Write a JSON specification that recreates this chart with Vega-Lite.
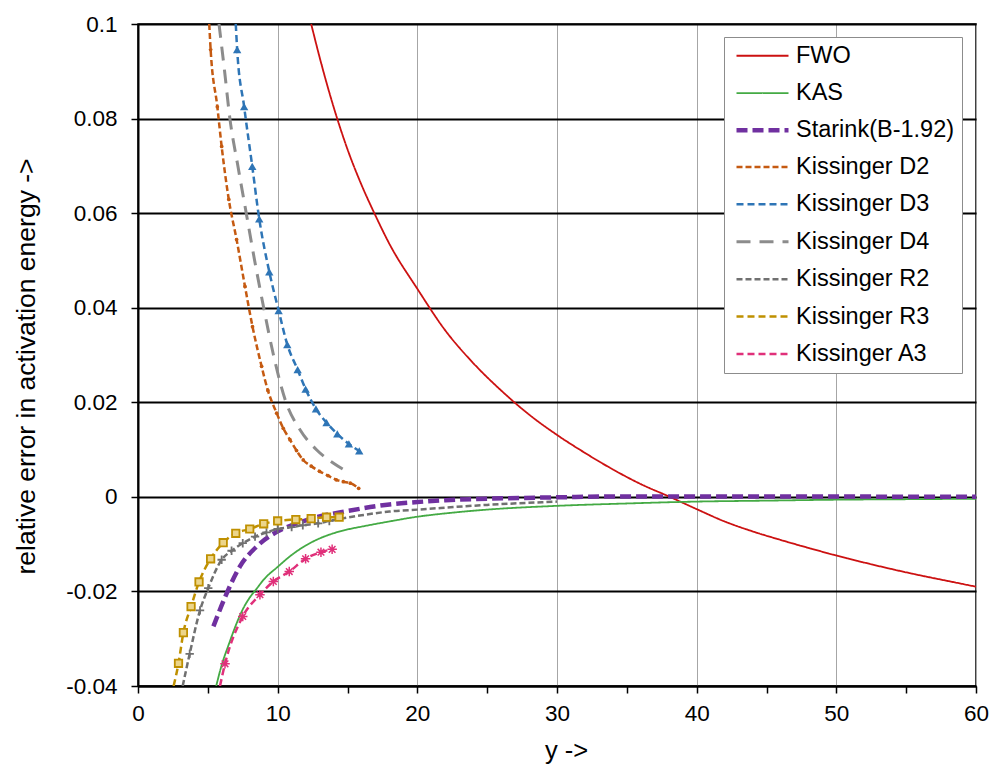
{
  "$schema": "https://vega.github.io/schema/vega-lite/v6.json",
  "width": 838,
  "height": 662,
  "autosize": "none",
  "padding": {"left": 138, "top": 24, "right": 13, "bottom": 80},
  "background": "white",
  "config": {
    "font": "Liberation Sans",
    "view": {"stroke": "black", "strokeWidth": 1.5},
    "axis": {"labelFont": "Liberation Sans", "titleFont": "Liberation Sans", "labelColor": "black", "titleColor": "black", "titleFontWeight": "normal", "labelFontSize": 22.5, "titleFontSize": 25.5}
  },
  "data": {"values": [
    {"series":"FWO","x":12.4,"y":0.1},{"series":"FWO","x":13,"y":0.093},{"series":"FWO","x":14,"y":0.0825},{"series":"FWO","x":15,"y":0.0735},{"series":"FWO","x":16,"y":0.066},{"series":"FWO","x":17,"y":0.0595},{"series":"FWO","x":18,"y":0.0535},{"series":"FWO","x":20,"y":0.044},{"series":"FWO","x":22,"y":0.0352},{"series":"FWO","x":24,"y":0.0283},{"series":"FWO","x":26,"y":0.0225},{"series":"FWO","x":28,"y":0.0174},{"series":"FWO","x":30,"y":0.0131},{"series":"FWO","x":32,"y":0.0093},{"series":"FWO","x":34,"y":0.0058},{"series":"FWO","x":36,"y":0.0027},{"series":"FWO","x":38,"y":0.0001},{"series":"FWO","x":40,"y":-0.0026},{"series":"FWO","x":42,"y":-0.0052},{"series":"FWO","x":44,"y":-0.0073},{"series":"FWO","x":46,"y":-0.0091},{"series":"FWO","x":48,"y":-0.0108},{"series":"FWO","x":50,"y":-0.0124},{"series":"FWO","x":52,"y":-0.0139},{"series":"FWO","x":54,"y":-0.0153},{"series":"FWO","x":56,"y":-0.0166},{"series":"FWO","x":58,"y":-0.0178},{"series":"FWO","x":60,"y":-0.019},
    {"series":"KAS","x":5.6,"y":-0.04},{"series":"KAS","x":6,"y":-0.0355},{"series":"KAS","x":6.5,"y":-0.0312},{"series":"KAS","x":7,"y":-0.0272},{"series":"KAS","x":7.5,"y":-0.0238},{"series":"KAS","x":8,"y":-0.0213},{"series":"KAS","x":8.5,"y":-0.0194},{"series":"KAS","x":9,"y":-0.0175},{"series":"KAS","x":10,"y":-0.0148},{"series":"KAS","x":11,"y":-0.0123},{"series":"KAS","x":12,"y":-0.0103},{"series":"KAS","x":13,"y":-0.0088},{"series":"KAS","x":14,"y":-0.0077},{"series":"KAS","x":15,"y":-0.0069},{"series":"KAS","x":16,"y":-0.0063},{"series":"KAS","x":18,"y":-0.0052},{"series":"KAS","x":20,"y":-0.0042},{"series":"KAS","x":22,"y":-0.0035},{"series":"KAS","x":25,"y":-0.0027},{"series":"KAS","x":30,"y":-0.0019},{"series":"KAS","x":35,"y":-0.0014},{"series":"KAS","x":40,"y":-0.001},{"series":"KAS","x":45,"y":-0.0008},{"series":"KAS","x":50,"y":-0.0006},{"series":"KAS","x":55,"y":-0.0005},{"series":"KAS","x":60,"y":-0.0004},
    {"series":"Starink(B-1.92)","x":5.4,"y":-0.0274},{"series":"Starink(B-1.92)","x":6.35,"y":-0.0204},{"series":"Starink(B-1.92)","x":7.3,"y":-0.0147},{"series":"Starink(B-1.92)","x":8.5,"y":-0.0105},{"series":"Starink(B-1.92)","x":10,"y":-0.0073},{"series":"Starink(B-1.92)","x":11.5,"y":-0.0055},{"series":"Starink(B-1.92)","x":12.8,"y":-0.0043},{"series":"Starink(B-1.92)","x":15,"y":-0.003},{"series":"Starink(B-1.92)","x":18,"y":-0.0016},{"series":"Starink(B-1.92)","x":20,"y":-0.0011},{"series":"Starink(B-1.92)","x":22,"y":-0.0007},{"series":"Starink(B-1.92)","x":25,"y":-0.0004},{"series":"Starink(B-1.92)","x":30,"y":-0.0001},{"series":"Starink(B-1.92)","x":35,"y":0.0001},{"series":"Starink(B-1.92)","x":40,"y":0.0001},{"series":"Starink(B-1.92)","x":45,"y":0.0001},{"series":"Starink(B-1.92)","x":50,"y":0.0001},{"series":"Starink(B-1.92)","x":55,"y":0},{"series":"Starink(B-1.92)","x":60,"y":0},
    {"series":"Kissinger D2","x":5.1,"y":0.1},{"series":"Kissinger D2","x":5.2,"y":0.0946},{"series":"Kissinger D2","x":5.68,"y":0.0825},{"series":"Kissinger D2","x":5.99,"y":0.0741},{"series":"Kissinger D2","x":6.5,"y":0.0629},{"series":"Kissinger D2","x":7.06,"y":0.0544},{"series":"Kissinger D2","x":7.66,"y":0.0445},{"series":"Kissinger D2","x":8.2,"y":0.036},{"series":"Kissinger D2","x":8.85,"y":0.0276},{"series":"Kissinger D2","x":9.3,"y":0.0225},{"series":"Kissinger D2","x":9.93,"y":0.0177},{"series":"Kissinger D2","x":10.4,"y":0.0145},{"series":"Kissinger D2","x":10.88,"y":0.0121},{"series":"Kissinger D2","x":11.35,"y":0.0098},{"series":"Kissinger D2","x":11.83,"y":0.0078},{"series":"Kissinger D2","x":12.4,"y":0.0065},{"series":"Kissinger D2","x":13,"y":0.0054},{"series":"Kissinger D2","x":13.6,"y":0.0045},{"series":"Kissinger D2","x":14.2,"y":0.0036},{"series":"Kissinger D2","x":14.7,"y":0.0032},{"series":"Kissinger D2","x":15.2,"y":0.0029},{"series":"Kissinger D2","x":15.8,"y":0.0018},
    {"series":"Kissinger D3","x":7.0,"y":0.1},{"series":"Kissinger D3","x":7.1,"y":0.0946},{"series":"Kissinger D3","x":7.6,"y":0.0825},{"series":"Kissinger D3","x":8.18,"y":0.0699},{"series":"Kissinger D3","x":8.68,"y":0.0588},{"series":"Kissinger D3","x":9.4,"y":0.0476},{"series":"Kissinger D3","x":10.07,"y":0.0394},{"series":"Kissinger D3","x":10.69,"y":0.0322},{"series":"Kissinger D3","x":11.43,"y":0.0269},{"series":"Kissinger D3","x":12.0,"y":0.0228},{"series":"Kissinger D3","x":12.74,"y":0.0186},{"series":"Kissinger D3","x":13.5,"y":0.0157},{"series":"Kissinger D3","x":14.27,"y":0.0133},{"series":"Kissinger D3","x":15.1,"y":0.0112},{"series":"Kissinger D3","x":15.84,"y":0.0097},
    {"series":"Kissinger D4","x":5.8,"y":0.1},{"series":"Kissinger D4","x":6.2,"y":0.09},{"series":"Kissinger D4","x":6.58,"y":0.08},{"series":"Kissinger D4","x":7.15,"y":0.07},{"series":"Kissinger D4","x":7.75,"y":0.06},{"series":"Kissinger D4","x":8.35,"y":0.05},{"series":"Kissinger D4","x":9.0,"y":0.04},{"series":"Kissinger D4","x":9.7,"y":0.03},{"series":"Kissinger D4","x":10.6,"y":0.02},{"series":"Kissinger D4","x":11.6,"y":0.0142},{"series":"Kissinger D4","x":12.8,"y":0.0099},{"series":"Kissinger D4","x":14.0,"y":0.0071},{"series":"Kissinger D4","x":15.2,"y":0.005},
    {"series":"Kissinger R2","x":3.2,"y":-0.04},{"series":"Kissinger R2","x":3.7,"y":-0.0332},{"series":"Kissinger R2","x":4.44,"y":-0.024},{"series":"Kissinger R2","x":5.03,"y":-0.0193},{"series":"Kissinger R2","x":5.99,"y":-0.0133},{"series":"Kissinger R2","x":6.7,"y":-0.0114},{"series":"Kissinger R2","x":7.5,"y":-0.0098},{"series":"Kissinger R2","x":8.38,"y":-0.0084},{"series":"Kissinger R2","x":9.2,"y":-0.0075},{"series":"Kissinger R2","x":10,"y":-0.0068},{"series":"Kissinger R2","x":11,"y":-0.0064},{"series":"Kissinger R2","x":11.8,"y":-0.006},{"series":"Kissinger R2","x":12.9,"y":-0.0056},{"series":"Kissinger R2","x":13.7,"y":-0.0051},{"series":"Kissinger R2","x":16,"y":-0.0039},{"series":"Kissinger R2","x":18,"y":-0.0031},{"series":"Kissinger R2","x":20,"y":-0.0027},{"series":"Kissinger R2","x":25,"y":-0.0017},{"series":"Kissinger R2","x":30,"y":-0.001},
    {"series":"Kissinger R3","x":2.55,"y":-0.04},{"series":"Kissinger R3","x":2.9,"y":-0.0352},{"series":"Kissinger R3","x":3.25,"y":-0.0287},{"series":"Kissinger R3","x":3.8,"y":-0.0232},{"series":"Kissinger R3","x":4.37,"y":-0.018},{"series":"Kissinger R3","x":5.2,"y":-0.0131},{"series":"Kissinger R3","x":6.1,"y":-0.0097},{"series":"Kissinger R3","x":7.0,"y":-0.0077},{"series":"Kissinger R3","x":8.0,"y":-0.0068},{"series":"Kissinger R3","x":9.0,"y":-0.0057},{"series":"Kissinger R3","x":10,"y":-0.0051},{"series":"Kissinger R3","x":11.3,"y":-0.0048},{"series":"Kissinger R3","x":12.4,"y":-0.0046},{"series":"Kissinger R3","x":13.5,"y":-0.0043},{"series":"Kissinger R3","x":14.4,"y":-0.0043},
    {"series":"Kissinger A3","x":5.87,"y":-0.04},{"series":"Kissinger A3","x":6.23,"y":-0.0353},{"series":"Kissinger A3","x":7.5,"y":-0.0253},{"series":"Kissinger A3","x":8.73,"y":-0.0207},{"series":"Kissinger A3","x":9.69,"y":-0.0179},{"series":"Kissinger A3","x":10.83,"y":-0.0158},{"series":"Kissinger A3","x":12.0,"y":-0.0131},{"series":"Kissinger A3","x":13.1,"y":-0.0117},{"series":"Kissinger A3","x":13.9,"y":-0.0111}
  ]},
  "encoding": {
    "x": {"field": "x", "type": "quantitative", "scale": {"domain": [0, 60], "nice": false},
      "axis": {"title": "y ->", "values": [0,5,10,15,20,25,30,35,40,45,50,55,60],
        "labelExpr": "datum.value % 10 === 0 ? datum.label : ''", "labelFlush": false,
        "grid": true, "gridColor": {"condition": {"test": "datum.value % 10 === 0 && datum.value > 0", "value": "#a6a6a6"}, "value": "transparent"}, "gridWidth": 1,
        "domainColor": "black", "domainWidth": 2, "tickColor": "black", "tickWidth": 1.5, "tickSize": 7,
        "labelPadding": 9, "titlePadding": 14, "titleX": 428}},
    "y": {"field": "y", "type": "quantitative", "scale": {"domain": [-0.04, 0.1], "nice": false, "zero": false},
      "axis": {"title": "relative error in activation energy ->", "titleFontSize": 26.5, "values": [-0.04,-0.02,0,0.02,0.04,0.06,0.08,0.1],
        "labelExpr": "datum.value < 0 ? '-' + format(-datum.value, '') : format(datum.value, '')", "labelFlush": false,
        "grid": true, "gridColor": "black", "gridWidth": 2,
        "domainColor": "black", "domainWidth": 2, "tickColor": "black", "tickWidth": 1.5, "tickSize": 7,
        "labelPadding": 14, "titlePadding": 25, "titleY": 342}}
  },
  "layer": [
    {
      "mark": {"type": "line", "interpolate": "monotone", "clip": true},
      "encoding": {
        "color": {"field": "series", "type": "ordinal", "title": null,
          "scale": {"domain": ["FWO","KAS","Starink(B-1.92)","Kissinger D2","Kissinger D3","Kissinger D4","Kissinger R2","Kissinger R3","Kissinger A3"],
            "range": ["#cc1111","#44aa44","#7030a0","#c55a11","#2e75b6","#8c8c8c","#707070","#bf9000","#e0307a"]},
          "legend": {"orient": "none", "legendX": 586, "legendY": 13, "fillColor": "white", "strokeColor": "#8c8c8c", "padding": 7,
            "symbolType": "M-0.7,0H4.5", "symbolSize": 400, "labelFontSize": 23.5, "labelFont": "Liberation Sans", "labelColor": "black",
            "labelOffset": 40, "rowPadding": 12.4}},
        "strokeDash": {"field": "series", "type": "ordinal", "title": null,
          "scale": {"domain": ["FWO","KAS","Starink(B-1.92)","Kissinger D2","Kissinger D3","Kissinger D4","Kissinger R2","Kissinger R3","Kissinger A3"],
            "range": [[1,0],[1,0],[11,5],[6,3],[7,4],[14,9],[6,3],[7,4],[7,4]]}},
        "strokeWidth": {"field": "series", "type": "ordinal", "title": null,
          "scale": {"type": "ordinal", "domain": ["FWO","KAS","Starink(B-1.92)","Kissinger D2","Kissinger D3","Kissinger D4","Kissinger R2","Kissinger R3","Kissinger A3"],
            "range": [1.8,1.8,4.5,2.5,2.5,3,2.5,2.5,2.5]}}
      }
    },
    {
      "transform": [{"filter": "datum.series === 'Kissinger D2' && datum.y < 0.099"}],
      "mark": {"type": "circle", "size": 14, "color": "#c55a11", "opacity": 1, "clip": true}
    },
    {
      "transform": [{"filter": "datum.series === 'Kissinger D3' && datum.y < 0.099"}],
      "mark": {"type": "point", "shape": "triangle-up", "filled": true, "size": 70, "color": "#2e75b6", "opacity": 1, "clip": true}
    },
    {
      "transform": [{"filter": "datum.series === 'Kissinger R2' && datum.x > 3.5 && datum.x < 14"}],
      "mark": {"type": "point", "shape": "M-1,0H1M0,-1V1", "filled": false, "size": 70, "strokeWidth": 1.8, "color": "#707070", "opacity": 1, "clip": true}
    },
    {
      "transform": [{"filter": "datum.series === 'Kissinger R3' && datum.x > 2.8"}],
      "mark": {"type": "point", "shape": "square", "filled": true, "size": 55, "fill": "#ecd58a", "stroke": "#bf9000", "strokeWidth": 1.8, "opacity": 1, "clip": true}
    },
    {
      "transform": [{"filter": "datum.series === 'Kissinger A3' && datum.x > 6"}],
      "mark": {"type": "point", "shape": "M-1,0H1M0,-1V1M-0.7,-0.7L0.7,0.7M-0.7,0.7L0.7,-0.7", "filled": false, "size": 90, "strokeWidth": 1.5, "color": "#e0307a", "opacity": 1, "clip": true}
    }
  ]
}
